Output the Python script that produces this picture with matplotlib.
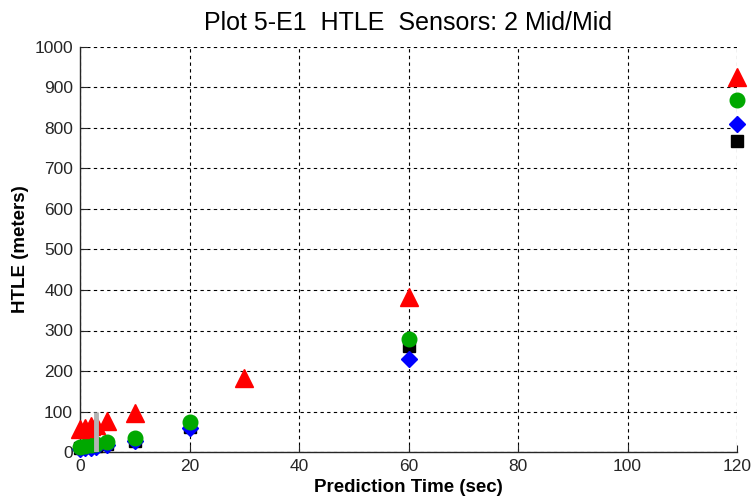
import matplotlib
matplotlib.use("Agg")
import matplotlib.pyplot as plt

# Prediction time (sec) and HTLE (meters) per series
t_sq = [0, 1, 2, 3, 5, 10, 20, 60, 120]
htle_sq = [10, 12, 14, 15, 20, 28, 62, 262, 768]

t_di = [0, 1, 2, 3, 5, 10, 20, 60, 120]
htle_di = [7, 9, 11, 12, 17, 26, 60, 229, 809]

t_ci = [0, 1, 2, 3, 5, 10, 20, 60, 120]
htle_ci = [13, 15, 17, 19, 25, 34, 75, 279, 869]

t_tri = [0, 1, 2, 3, 5, 10, 30, 60, 120]
htle_tri = [57, 60, 63, 66, 77, 97, 182, 382, 927]

# gray range bar
bar_t = 3
bar_range = [0, 100]

xticks = [0, 20, 40, 60, 80, 100, 120]
yticks = list(range(0, 1001, 100))

plt.rcParams['font.family'] = ['Liberation Sans Narrow', 'Liberation Sans', 'DejaVu Sans']

fig = plt.figure(figsize=(7.51, 5.01), dpi=100)
ax = fig.add_axes([80 / 751, 1 - 452 / 501, (737 - 80) / 751, (452 - 47) / 501])

ax.plot(t_sq, htle_sq, 's', color='black', ms=8.5, ls='none', zorder=3, clip_on=False)
ax.plot(t_di, htle_di, 'D', color='#0000ff', ms=8, ls='none', zorder=4, clip_on=False)
ax.plot(t_ci, htle_ci, 'o', color='#00a800', ms=10.5, ls='none', zorder=5, clip_on=False)
ax.plot(t_tri, htle_tri, '^', color='#ff0000', ms=12.5, ls='none', zorder=6, clip_on=False)
ax.plot([bar_t, bar_t], bar_range, color='#b4b4b4', lw=3.5, zorder=7, solid_capstyle='butt')

ax.set_xlim(0, 120)
ax.set_ylim(0, 1000)
ax.set_xticks(xticks)
ax.set_yticks(yticks)
ax.tick_params(direction='in', length=5, labelsize=12.5, colors='#262626', pad=5)

for s in ['top', 'right']:
    ax.spines[s].set_visible(False)
for s in ['left', 'bottom']:
    ax.spines[s].set_color('#262626')
    ax.spines[s].set_linewidth(1.0)

ax.grid(True, color='black', lw=0.8, ls=(0, (3, 3)))
ax.set_axisbelow(True)

ax.set_title('Plot 5-E1  HTLE  Sensors: 2 Mid/Mid', fontsize=18, pad=12)
ax.set_xlabel('Prediction Time (sec)', fontsize=13.5, fontweight='bold', labelpad=4)
ax.set_ylabel('HTLE (meters)', fontsize=13.5, fontweight='bold', labelpad=4)

fig.savefig('out.png', dpi=100)
